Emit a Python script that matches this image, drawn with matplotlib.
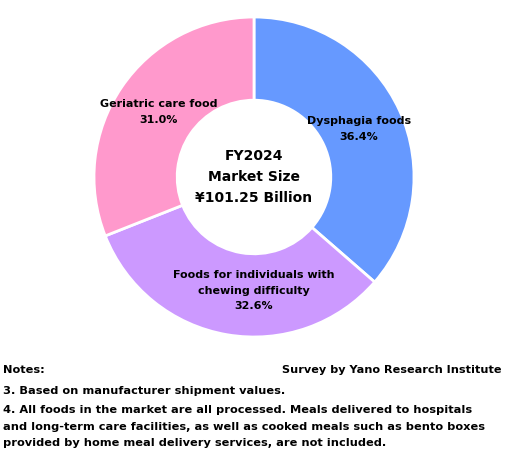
import numpy as np
import matplotlib.pyplot as plt

labels = ["Dysphagia foods", "Foods for individuals with\nchewing difficulty", "Geriatric care food"]
shares = [36.4, 32.6, 31.0]
colors = ["#6699FF", "#CC99FF", "#FF99CC"]
center_text = "FY2024\nMarket Size\n¥101.25 Billion"
notes = ["3. Based on manufacturer shipment values.",
         "4. All foods in the market are all processed. Meals delivered to hospitals",
         "and long-term care facilities, as well as cooked meals such as bento boxes",
         "provided by home meal delivery services, are not included."]
source = "Survey by Yano Research Institute"

plt.rcParams['font.family'] = ['DejaVu Sans']

fig = plt.figure(figsize=(5.05, 4.54), dpi=100)
ax = fig.add_axes([94 / 505, 117 / 454, 320 / 505, 320 / 454])

wedges, _ = ax.pie(shares, colors=colors, startangle=90, counterclock=False,
                   wedgeprops=dict(width=0.52, edgecolor="white", linewidth=2))
ax.set_aspect("equal")
ax.set_xlim(-1.0, 1.0)
ax.set_ylim(-1.0, 1.0)

for w, lab, val in zip(wedges, labels, shares):
    mid = np.deg2rad((w.theta1 + w.theta2) / 2)
    r = 0.72
    x, y = r * np.cos(mid), r * np.sin(mid)
    if "chewing" in lab:
        x = 0.0
    ax.text(x, y, f"{lab}\n{val:.1f}%", ha="center", va="center",
            fontsize=8, fontweight="bold", linespacing=1.7)

ax.text(0, 0, center_text, ha="center", va="center", fontsize=10,
        fontweight="bold", linespacing=1.6)

fs = 8.2
fig.text(3 / 505, 1 - 370 / 454, "Notes:", fontsize=fs, fontweight="bold", va="center")
fig.text(502 / 505, 1 - 370 / 454, source, fontsize=8.1, fontweight="bold",
         va="center", ha="right")
ys = [391, 410, 427, 443]
for t, yy in zip(notes, ys):
    fig.text(3 / 505, 1 - yy / 454, t, fontsize=fs, fontweight="bold", va="center")

fig.savefig("out.png", dpi=100)
